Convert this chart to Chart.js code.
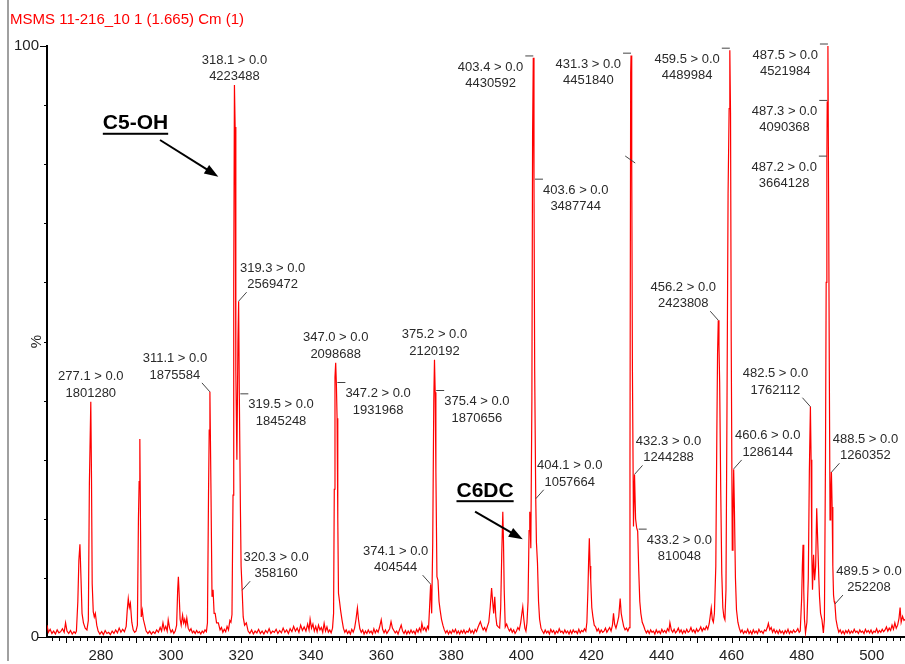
<!DOCTYPE html>
<html>
<head>
<meta charset="utf-8">
<title>MSMS 11-216_10 1 (1.665) Cm (1)</title>
<script src="https://cdn.jsdelivr.net/npm/chart.js@4.4.1/dist/chart.umd.min.js"></script>
<style>
  html, body { margin: 0; padding: 0; background: #fff; }
  canvas { display: block; }
</style>
</head>
<body>
<canvas id="spectrum" width="905" height="664"></canvas>
<script>
'use strict';

// Scan trace as [m/z, % of base peak] in segments
var traceTo300 = [
  [264.6,2.0],[265.0,0.8],[265.5,1.3],[266.0,0.6],[266.5,1.0],[267.0,0.5],[267.5,1.2],[268.0,0.7],
  [268.5,0.9],[269.0,1.4],[269.5,0.8],[269.9,2.4],[270.3,1.0],[270.8,0.6],[271.3,1.1],[271.8,0.5],
  [272.3,0.9],[272.7,0.6],[273.0,1.0],[273.4,6.0],[273.7,13.0],[274.0,15.7],[274.3,10.0],[274.6,4.0],
  [275.0,2.4],[275.5,1.5],[276.0,1.2],[276.4,2.8],[276.7,26.0],[277.1,39.8],[277.3,27.0],[277.5,9.0],
  [277.8,4.3],[278.1,3.4],[278.4,4.0],[278.8,2.0],[279.2,1.0],[279.7,0.5],[280.2,0.9],[280.7,0.4],
  [281.2,1.1],[281.7,0.6],[282.2,0.8],[282.7,0.4],[283.2,1.0],[283.7,0.6],[284.2,1.2],[284.7,0.7],
  [285.2,1.5],[285.7,0.8],[286.2,1.3],[286.7,0.9],[287.2,1.8],[287.5,4.5],[287.8,6.5],[288.1,5.0],
  [288.4,5.7],[288.8,2.5],[289.2,1.2],[289.6,0.8],[290.0,1.0],[290.4,2.0],[290.7,20.0],[290.9,26.3],
  [291.1,33.5],[291.3,18.0],[291.5,3.4],[291.8,4.5],[292.1,3.0],[292.5,2.0],[292.9,1.0],[293.4,0.6],
  [293.9,1.0],[294.4,0.5],[294.9,0.9],[295.4,0.6],[295.9,1.2],[296.4,0.8],[296.9,1.6],[297.3,1.0],
  [297.7,2.4],[298.1,1.2],[298.5,1.8],[298.9,1.0],[299.2,2.9],[299.6,1.5],[300.0,0.8]
];
var traceTo321 = [
  [300.4,1.2],[300.8,0.6],[301.2,1.0],[301.6,2.0],[301.9,8.0],[302.1,10.2],[302.3,7.5],[302.6,3.0],
  [302.9,2.0],[303.3,3.7],[303.6,2.4],[303.9,3.0],[304.2,2.0],[304.5,3.2],[304.9,1.5],[305.3,1.0],
  [305.7,1.4],[306.1,0.7],[306.5,1.0],[306.9,0.6],[307.3,1.1],[307.7,0.7],[308.1,0.9],[308.5,0.5],
  [308.9,1.0],[309.3,0.7],[309.7,1.2],[310.1,0.9],[310.4,2.4],[310.7,24.0],[310.9,35.0],[311.1,41.5],
  [311.4,25.0],[311.7,6.8],[312.0,8.0],[312.3,4.0],[312.6,4.0],[313.0,2.4],[313.5,2.4],[314.0,1.2],
  [314.4,1.6],[314.8,0.8],[315.2,1.3],[315.6,0.9],[316.0,1.8],[316.4,1.2],[316.8,2.8],[317.1,2.5],
  [317.4,3.8],[317.7,24.0],[317.9,60.0],[318.1,93.4],[318.3,86.3],[318.5,45.0],[318.8,30.0],[319.1,50.0],
  [319.3,56.8],[319.5,40.8],[319.8,22.0],[320.0,12.0],[320.3,7.9],[320.6,3.4],[321.0,2.0]
];
var traceTo346 = [
  [321.5,2.4],[322.0,1.0],[322.5,0.6],[323.0,1.2],[323.5,0.5],[324.0,1.0],[324.5,0.7],[325.0,1.3],
  [325.5,0.6],[326.0,1.0],[326.5,0.5],[327.0,1.1],[327.5,0.7],[328.0,1.4],[328.5,0.6],[329.0,1.0],
  [329.5,0.8],[330.0,1.3],[330.5,0.6],[331.0,1.1],[331.5,0.7],[332.0,1.5],[332.5,0.8],[333.0,1.2],
  [333.5,0.6],[334.0,1.4],[334.5,0.9],[335.0,1.8],[335.5,1.0],[336.0,1.5],[336.5,0.8],[337.0,2.0],
  [337.5,1.1],[338.0,1.7],[338.5,1.0],[339.0,2.2],[339.4,1.2],[339.7,3.0],[340.1,1.5],[340.5,2.2],
  [340.9,1.0],[341.3,1.8],[341.7,0.9],[342.1,2.0],[342.5,1.2],[342.9,1.6],[343.3,0.8],[343.7,2.3],
  [344.1,1.0],[344.5,1.7],[344.9,0.8],[345.3,1.2],[345.7,0.7]
];
var traceTo378 = [
  [346.1,1.5],[346.4,4.0],[346.6,25.0],[346.8,44.0],[347.0,46.4],[347.2,42.7],[347.4,37.0],[347.6,20.0],
  [347.8,7.4],[348.1,6.0],[348.4,4.5],[348.8,2.9],[349.2,1.5],[349.6,0.8],[350.0,1.2],[350.4,0.6],
  [350.8,1.0],[351.2,0.5],[351.6,1.3],[352.0,0.8],[352.4,1.5],[352.8,3.0],[353.2,4.9],[353.5,3.0],
  [353.9,1.4],[354.3,0.8],[354.7,1.2],[355.1,0.5],[355.5,1.0],[355.9,0.6],[356.3,1.2],[356.7,0.7],
  [357.1,1.0],[357.5,0.5],[357.9,1.4],[358.3,0.7],[358.7,1.2],[359.1,0.8],[359.5,1.6],[360.0,2.9],
  [360.4,1.3],[360.8,0.7],[361.2,1.2],[361.6,0.6],[362.0,1.0],[362.4,1.4],[362.8,2.6],[363.2,1.5],
  [363.6,1.1],[364.0,0.7],[364.4,1.0],[364.8,0.5],[365.2,1.2],[365.7,2.0],[366.1,1.0],[366.5,0.6],
  [366.9,1.1],[367.3,0.5],[367.7,1.0],[368.1,0.6],[368.5,1.2],[368.9,0.7],[369.3,1.0],[369.7,0.5],
  [370.1,1.3],[370.5,0.8],[370.9,1.5],[371.3,0.9],[371.6,2.3],[372.0,1.2],[372.4,1.6],[372.8,1.0],
  [373.2,1.8],[373.5,1.4],[373.8,5.0],[374.1,8.9],[374.4,4.0],[374.7,16.0],[375.0,40.0],[375.2,46.9],
  [375.4,41.4],[375.6,28.0],[375.9,10.2],[376.2,9.6],[376.5,6.0],[376.8,4.6],[377.2,3.0],[377.6,2.0],
  [378.0,1.2]
];
var traceTo406 = [
  [378.4,0.7],[378.8,1.1],[379.2,0.5],[379.6,1.0],[380.0,0.6],[380.4,1.2],[380.8,0.8],[381.2,1.3],
  [381.6,0.6],[382.0,1.0],[382.4,0.5],[382.8,1.1],[383.2,0.7],[383.6,1.2],[384.0,0.6],[384.4,1.0],
  [384.8,0.8],[385.2,1.4],[385.6,0.7],[386.0,1.1],[386.4,0.6],[386.8,1.3],[387.2,0.9],[387.6,1.6],
  [388.0,2.2],[388.3,2.6],[388.7,1.8],[389.1,1.2],[389.5,1.6],[389.9,1.0],[390.3,1.8],[390.7,2.5],
  [391.1,5.0],[391.5,8.3],[391.8,6.0],[392.1,4.0],[392.4,6.8],[392.7,3.5],[393.0,2.0],[393.4,1.7],
  [393.8,1.5],[394.1,5.0],[394.4,14.0],[394.7,21.2],[394.9,16.0],[395.1,8.0],[395.4,1.7],[395.8,2.2],
  [396.2,1.5],[396.6,1.0],[397.0,1.4],[397.4,0.8],[397.8,1.2],[398.2,0.6],[398.6,1.0],[399.0,1.6],
  [399.4,1.2],[399.8,2.4],[400.1,3.8],[400.4,5.1],[400.7,3.0],[401.0,1.5],[401.3,1.0],[401.6,2.4],
  [401.9,6.0],[402.2,18.0],[402.4,21.2],[402.7,15.0],[403.0,40.0],[403.2,85.0],[403.4,98.0],[403.6,77.1],
  [403.8,45.0],[404.1,23.4],[404.3,16.0],[404.6,12.5],[404.9,6.0],[405.2,3.0],[405.6,1.5]
];
var traceTo435 = [
  [406.0,1.0],[406.4,0.6],[406.8,1.2],[407.2,0.7],[407.6,1.0],[408.0,0.5],[408.4,1.3],[408.8,0.8],
  [409.2,1.1],[409.6,0.5],[410.0,1.0],[410.4,0.7],[410.8,1.4],[411.2,0.8],[411.6,1.0],[412.0,0.6],
  [412.4,1.2],[412.8,0.7],[413.2,1.0],[413.6,0.5],[414.0,1.1],[414.4,0.6],[414.8,1.2],[415.2,0.8],
  [415.6,1.0],[416.0,0.6],[416.4,1.3],[416.8,0.7],[417.2,1.1],[417.6,0.9],[418.0,1.4],[418.4,1.0],
  [418.7,2.5],[419.0,8.0],[419.2,13.0],[419.4,16.7],[419.6,12.0],[419.8,9.6],[420.1,5.0],[420.4,3.5],
  [420.8,2.0],[421.2,1.7],[421.6,1.0],[422.0,1.4],[422.4,0.7],[422.8,1.2],[423.2,0.8],[423.6,1.0],
  [424.0,1.5],[424.4,0.8],[424.8,1.2],[425.2,1.6],[425.6,1.0],[426.0,2.0],[426.3,4.0],[426.6,2.2],
  [427.0,1.5],[427.4,2.4],[427.8,3.5],[428.2,6.5],[428.5,4.0],[428.8,3.0],[429.2,1.8],[429.6,1.2],
  [430.0,1.5],[430.4,1.0],[430.8,1.6],[431.0,30.0],[431.2,95.4],[431.3,98.4],[431.5,80.2],[431.7,45.0],
  [432.0,18.7],[432.3,27.5],[432.6,20.0],[432.9,18.5],[433.2,17.9],[433.5,11.3],[433.8,6.0],[434.1,4.0],
  [434.5,2.5],[434.9,1.9]
];
var traceTo462 = [
  [435.3,1.2],[435.7,0.7],[436.1,1.1],[436.5,0.6],[436.9,1.2],[437.3,0.8],[437.7,1.0],[438.1,0.5],
  [438.5,1.2],[438.9,0.7],[439.3,1.0],[439.7,0.6],[440.1,1.3],[440.5,0.8],[440.9,1.1],[441.3,0.7],
  [441.7,1.4],[442.1,1.0],[442.4,2.4],[442.8,1.2],[443.2,0.8],[443.6,1.3],[444.0,0.7],[444.4,1.0],
  [444.8,1.5],[445.2,0.8],[445.6,1.2],[446.0,0.6],[446.4,1.1],[446.8,0.7],[447.2,1.3],[447.6,0.8],
  [448.0,1.0],[448.4,1.6],[448.8,0.9],[449.2,1.2],[449.6,0.7],[450.0,1.4],[450.4,0.9],[450.8,1.2],
  [451.2,1.7],[451.6,1.0],[452.0,1.5],[452.4,1.2],[452.8,1.8],[453.2,1.3],[453.6,2.2],[453.9,3.5],
  [454.2,4.9],[454.5,3.0],[454.8,2.5],[455.1,4.0],[455.5,12.0],[455.8,35.0],[456.0,48.0],[456.2,53.6],
  [456.4,49.4],[456.6,43.0],[456.9,25.0],[457.2,10.8],[457.5,5.0],[457.8,3.4],[458.1,2.9],[458.4,8.0],
  [458.7,40.0],[459.0,75.0],[459.3,89.4],[459.5,99.3],[459.7,88.6],[459.9,50.0],[460.2,14.7],[460.4,20.0],
  [460.6,28.4],[460.8,22.0],[461.1,10.0],[461.4,4.6],[461.8,2.5]
];
var traceTo490 = [
  [462.2,1.5],[462.6,0.8],[463.0,1.2],[463.4,0.6],[463.8,1.0],[464.2,0.7],[464.6,1.3],[465.0,0.6],
  [465.4,1.0],[465.8,0.5],[466.2,1.2],[466.6,0.7],[467.0,1.0],[467.4,0.6],[467.8,1.3],[468.2,0.8],
  [468.6,1.0],[469.0,0.6],[469.4,1.2],[469.8,1.0],[470.2,1.6],[470.5,2.3],[470.9,1.2],[471.3,1.6],
  [471.7,0.8],[472.1,1.3],[472.5,0.7],[472.9,1.1],[473.3,0.6],[473.7,1.2],[474.1,0.7],[474.5,1.0],
  [474.9,0.5],[475.3,1.1],[475.7,0.7],[476.1,1.3],[476.5,0.6],[476.9,1.0],[477.3,0.7],[477.7,1.2],
  [478.1,0.8],[478.5,1.0],[478.9,1.4],[479.3,0.8],[479.6,1.0],[480.0,6.5],[480.2,12.0],[480.4,15.6],
  [480.6,8.0],[480.8,3.0],[481.1,0.7],[481.5,2.5],[481.9,10.0],[482.2,28.0],[482.5,39.0],[482.7,30.0],
  [482.9,14.0],[483.1,8.0],[483.4,13.9],[483.7,9.6],[484.0,12.0],[484.3,21.8],[484.6,16.0],[484.9,10.0],
  [485.1,6.8],[485.4,4.0],[485.8,2.9],[486.2,0.7],[486.5,3.0],[486.8,30.0],[487.0,60.0],[487.2,81.0],
  [487.3,90.5],[487.5,100.0],[487.7,73.9],[487.9,45.0],[488.1,19.8],[488.3,24.0],[488.5,27.9],[488.7,22.0],
  [488.9,12.0],[489.1,7.1],[489.3,6.0],[489.5,5.6],[489.8,3.0],[490.2,1.7]
];
var traceTo510 = [
  [490.6,0.8],[491.0,1.2],[491.4,0.6],[491.8,1.0],[492.2,0.5],[492.6,1.1],[493.0,0.7],[493.4,1.2],
  [493.8,0.6],[494.2,1.0],[494.6,0.7],[495.0,1.3],[495.4,0.8],[495.8,1.0],[496.2,0.6],[496.6,1.2],
  [497.0,0.8],[497.4,1.0],[497.8,0.6],[498.2,1.3],[498.6,0.8],[499.0,1.1],[499.4,0.7],[499.8,1.2],
  [500.2,0.6],[500.6,1.0],[501.0,0.8],[501.4,1.4],[501.8,0.7],[502.2,1.1],[502.6,0.8],[503.0,1.3],
  [503.4,0.9],[503.8,1.2],[504.2,1.7],[504.6,1.0],[505.0,1.5],[505.4,1.1],[505.8,2.0],[506.2,1.3],
  [506.6,2.4],[507.0,1.5],[507.4,2.0],[507.8,3.2],[508.1,5.0],[508.4,2.5],[508.8,3.5],[509.2,2.8],
  [509.5,3.0]
];

// Peak annotations printed by the software: m/z and raw intensity
var labelMz = ['277.1', '311.1', '318.1', '319.3', '319.5', '320.3', '347.0', '347.2', '374.1',
  '375.2', '375.4', '403.4', '403.6', '404.1', '431.3', '432.3', '433.2', '456.2', '459.5',
  '460.6', '482.5', '487.5', '487.3', '487.2', '488.5', '489.5'];
var labelCounts = [1801280, 1875584, 4223488, 2569472, 1845248, 358160, 2098688, 1931968, 404544,
  2120192, 1870656, 4430592, 3487744, 1057664, 4451840, 1244288, 810048, 2423808, 4489984,
  1286144, 1762112, 4521984, 4090368, 3664128, 1260352, 252208];

// Where each label sits relative to its peak
var labelPlacement = ['above', 'upLeft', 'above', 'upRight', 'right', 'upRight', 'above', 'right', 'upLeft',
  'above', 'right', 'left', 'right', 'upRight', 'left', 'upRight', 'right', 'upLeft', 'left',
  'upRight', 'upLeft', 'left', 'left', 'left', 'upRight', 'upRight'];

// Leader without text on the 431 peak
var stubMarks = [[431.5, 80.2]];

// Hand-written notes, in data coordinates
var notes = [
  { text: 'C5-OH', at: [289.86, 85.91], from: [296.86, 84.09], to: [313.5, 77.89] },
  { text: 'C6DC', at: [389.64, 23.74], from: [386.78, 21.2], to: [400.4, 16.53] }
];

var FONT = "'Liberation Sans', Arial, sans-serif";
var trace = [].concat(traceTo300, traceTo321, traceTo346, traceTo378, traceTo406,
  traceTo435, traceTo462, traceTo490, traceTo510);

/**
 * Window frame line on the left and hand-drawn axis ticks.
 */
var frameAndTicks = {
  id: 'frameAndTicks',
  beforeDraw: function(chart) {
    var ctx = chart.ctx;
    ctx.save();
    ctx.fillStyle = '#a0a0a0';
    ctx.fillRect(7, 0, 2, 661);
    ctx.restore();
  },
  afterDraw: function(chart) {
    var ctx = chart.ctx;
    var xs = chart.scales.x;
    var ys = chart.scales.y;
    var area = chart.chartArea;
    ctx.save();
    ctx.strokeStyle = '#000';
    ctx.lineWidth = 1;
    ctx.beginPath();
    for (var v = 266; v <= 508; v += 2) {
      var x = Math.round(xs.getPixelForValue(v)) + 0.5;
      var len = v % 10 === 0 ? 6 : 4;
      ctx.moveTo(x, area.bottom);
      ctx.lineTo(x, area.bottom + len);
    }
    for (var p = 0; p <= 100; p += 10) {
      var y = Math.round(ys.getPixelForValue(p)) + 0.5;
      var l = p === 0 ? 9 : (p === 100 ? 7 : 3);
      ctx.moveTo(area.left - l, y);
      ctx.lineTo(area.left, y);
    }
    ctx.stroke();
    ctx.restore();
  }
};

/**
 * Peak labels with leader lines, and the C5-OH / C6DC notes.
 */
var peakNotes = {
  id: 'peakNotes',
  afterDraw: function(chart) {
    var ctx = chart.ctx;
    var xs = chart.scales.x;
    var ys = chart.scales.y;
    var basePeak = Math.max.apply(null, labelCounts);

    ctx.save();
    ctx.font = '13px ' + FONT;
    ctx.fillStyle = '#2a2a2a';
    ctx.strokeStyle = '#444';
    ctx.lineWidth = 1;
    ctx.textAlign = 'center';
    ctx.textBaseline = 'middle';

    labelMz.forEach(function(mz, i) {
      var px = xs.getPixelForValue(parseFloat(mz));
      var py = ys.getPixelForValue(labelCounts[i] / basePeak * 100);
      var line1 = mz + ' > 0.0';
      var line2 = String(labelCounts[i]);
      var w1 = ctx.measureText(line1).width;
      var cx, cy, lead = null;

      switch (labelPlacement[i]) {
        case 'above':
          cx = px; cy = py - 25;
          break;
        case 'upLeft':
          cx = px - 35; cy = py - 33;
          lead = [px - 8, py - 9, px, py];
          break;
        case 'upRight':
          cx = px + 34; cy = py - 33;
          lead = [px + 8, py - 9, px, py];
          break;
        case 'right':
          cx = px + 9 + w1 / 2; cy = py + 9;
          lead = [px + 1, py - 2, px + 9, py - 2];
          break;
        case 'left':
          cx = px - 10 - w1 / 2; cy = py + 9;
          lead = [px - 8, py - 2, px, py - 2];
          break;
      }

      ctx.fillText(line1, cx, cy);
      ctx.fillText(line2, cx, cy + 16.5);
      if (lead) {
        ctx.beginPath();
        ctx.moveTo(lead[0], lead[1]);
        ctx.lineTo(lead[2], lead[3]);
        ctx.stroke();
      }
    });

    stubMarks.forEach(function(m) {
      var px = xs.getPixelForValue(m[0]);
      var py = ys.getPixelForValue(m[1]);
      ctx.beginPath();
      ctx.moveTo(px - 6.5, py - 7);
      ctx.lineTo(px + 3.5, py);
      ctx.stroke();
    });

    // Notes with underline and arrow
    ctx.font = 'bold 21px ' + FONT;
    ctx.fillStyle = '#000';
    ctx.strokeStyle = '#000';
    ctx.textBaseline = 'alphabetic';
    notes.forEach(function(n) {
      var tx = xs.getPixelForValue(n.at[0]);
      var ty = ys.getPixelForValue(n.at[1]);
      var w = ctx.measureText(n.text).width;
      ctx.fillText(n.text, tx, ty);
      ctx.fillRect(tx - w / 2, ty + 3.5, w, 2);

      var x0 = xs.getPixelForValue(n.from[0]);
      var y0 = ys.getPixelForValue(n.from[1]);
      var x1 = xs.getPixelForValue(n.to[0]);
      var y1 = ys.getPixelForValue(n.to[1]);
      var ang = Math.atan2(y1 - y0, x1 - x0);
      var head = 14;
      ctx.lineWidth = 2;
      ctx.beginPath();
      ctx.moveTo(x0, y0);
      ctx.lineTo(x1 - Math.cos(ang) * head * 0.8, y1 - Math.sin(ang) * head * 0.8);
      ctx.stroke();
      ctx.beginPath();
      ctx.moveTo(x1, y1);
      ctx.lineTo(x1 - head * Math.cos(ang) + 5 * Math.sin(ang), y1 - head * Math.sin(ang) - 5 * Math.cos(ang));
      ctx.lineTo(x1 - head * Math.cos(ang) - 5 * Math.sin(ang), y1 - head * Math.sin(ang) + 5 * Math.cos(ang));
      ctx.closePath();
      ctx.fill();
    });
    ctx.restore();
  }
};

var ctx = document.getElementById('spectrum').getContext('2d');
var spectrumChart = new Chart(ctx, {
  type: 'line',
  data: {
    datasets: [{
      data: trace.map(function(p) { return { x: p[0], y: p[1] }; }),
      borderColor: '#ff0000',
      borderWidth: 1.2,
      pointRadius: 0,
      fill: false,
      tension: 0
    }]
  },
  options: {
    responsive: false,
    animation: false,
    devicePixelRatio: 1,
    layout: { padding: { left: 10, right: 0, top: 0, bottom: 0 } },
    plugins: {
      legend: { display: false },
      tooltip: { enabled: false },
      title: {
        display: true,
        text: 'MSMS 11-216_10 1 (1.665) Cm (1)',
        align: 'start',
        color: '#ff0000',
        font: { family: FONT, size: 15, weight: 'normal' },
        padding: { top: 11, bottom: 17 }
      }
    },
    scales: {
      x: {
        type: 'linear',
        min: 264.6,
        max: 509.5,
        grid: { display: false, drawTicks: false },
        border: { display: true, color: '#000', width: 2 },
        ticks: {
          stepSize: 20,
          includeBounds: false,
          autoSkip: false,
          maxRotation: 0,
          padding: 10,
          color: '#222',
          font: { family: FONT, size: 15 }
        },
        afterFit: function(scale) { scale.height = 27; }
      },
      y: {
        min: 0,
        max: 100,
        grid: { display: false, drawTicks: false },
        border: { display: true, color: '#000', width: 2 },
        title: {
          display: true,
          text: '%',
          color: '#222',
          font: { family: FONT, size: 15 },
          padding: { top: 18, bottom: 0 }
        },
        ticks: {
          stepSize: 10,
          padding: 8,
          color: '#222',
          font: { family: FONT, size: 15 },
          callback: function(v) {
            if (v === 0) return '0';
            if (v === 100) return '100';
            return '';
          }
        },
        afterFit: function(scale) { scale.width = 37; }
      }
    }
  },
  plugins: [frameAndTicks, peakNotes]
});
</script>
</body>
</html>
